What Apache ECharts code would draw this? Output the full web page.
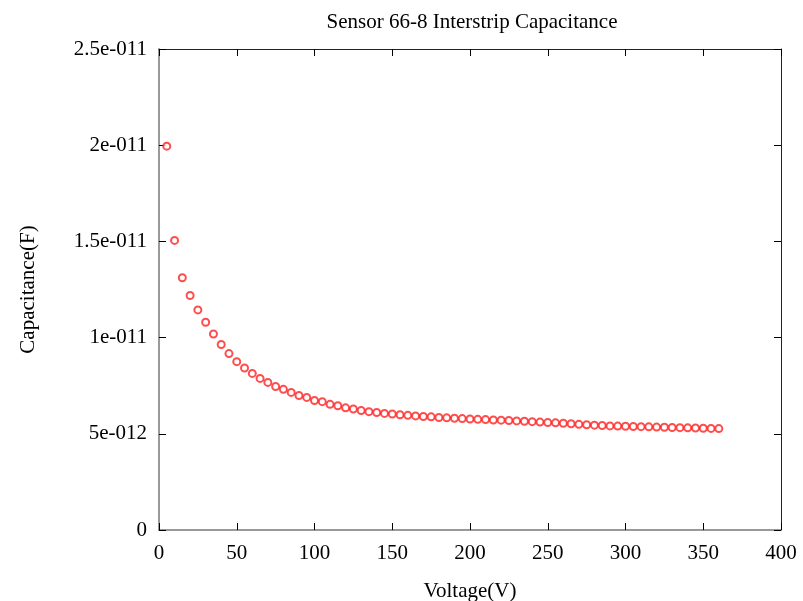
<!DOCTYPE html>
<html>
<head>
<meta charset="utf-8">
<script src="https://cdn.jsdelivr.net/npm/echarts@6/dist/echarts.min.js"></script>
<style>
  html, body { margin: 0; padding: 0; background: #fff; }
  #chart { width: 803px; height: 601px; }
</style>
</head>
<body>
<div id="chart"></div>
<script>
// bias voltage (V)
const voltages = [
  5, 10, 15, 20, 25, 30, 35, 40, 45, 50, 55, 60, 65, 70, 75, 80, 85, 90,
  95, 100, 105, 110, 115, 120, 125, 130, 135, 140, 145, 150, 155, 160, 165, 170,
  175, 180, 185, 190, 195, 200, 205, 210, 215, 220, 225, 230, 235, 240, 245, 250,
  255, 260, 265, 270, 275, 280, 285, 290, 295, 300, 305, 310, 315, 320, 325, 330,
  335, 340, 345, 350, 355, 360
];
// interstrip capacitance, in units of 1e-12 F
const capacitance = [
  19.95, 15.05, 13.11, 12.19, 11.44, 10.80, 10.19, 9.64, 9.17, 8.75, 8.42, 8.14, 7.88, 7.67, 7.46, 7.31, 7.15, 6.99,
  6.89, 6.73, 6.67, 6.53, 6.46, 6.35, 6.29, 6.21, 6.15, 6.11, 6.06, 6.03, 5.99, 5.96, 5.93, 5.90,
  5.88, 5.85, 5.83, 5.81, 5.79, 5.77, 5.75, 5.74, 5.72, 5.71, 5.69, 5.67, 5.65, 5.63, 5.61, 5.59,
  5.57, 5.55, 5.52, 5.49, 5.47, 5.45, 5.43, 5.41, 5.40, 5.39, 5.38, 5.37, 5.36, 5.35, 5.34, 5.33,
  5.32, 5.31, 5.30, 5.29, 5.28, 5.27
];
const yTickLabels = ['0', '5e-012', '1e-011', '1.5e-011', '2e-011', '2.5e-011'];
const xTickLabels = ['0', '50', '100', '150', '200', '250', '300', '350', '400'];

const font = 'Liberation Serif';
const points = voltages.map((v, i) => [v, capacitance[i]]);

// ticks point into the plot, on all four sides
const tick = { show: true, inside: true, length: 7, lineStyle: { color: '#000', width: 1 } };

const myChart = echarts.init(document.getElementById('chart'));
const option = {
  animation: false,
  backgroundColor: '#fff',
  title: {
    text: 'Sensor 66-8 Interstrip Capacitance',
    left: 467,
    textAlign: 'center',
    top: 7,
    textStyle: { fontFamily: font, fontSize: 21, fontWeight: 'normal', color: '#000' }
  },
  grid: { left: 159, right: 22, top: 49, bottom: 71, containLabel: false, outerBoundsMode: 'none' },
  xAxis: [
    {
      type: 'value',
      min: 0,
      max: 400,
      interval: 50,
      name: 'Voltage(V)',
      nameLocation: 'middle',
      nameGap: 51,
      nameTextStyle: { fontFamily: font, fontSize: 21, color: '#000' },
      axisLine: { show: true, onZero: false, lineStyle: { color: '#999', width: 2 } },
      axisTick: tick,
      axisLabel: {
        fontFamily: font, fontSize: 21, color: '#000', margin: 13,
        formatter: (v) => xTickLabels[Math.round(v / 50)]
      },
      splitLine: { show: false }
    },
    {
      type: 'value',
      position: 'top',
      min: 0,
      max: 400,
      interval: 50,
      axisLine: { show: true, onZero: false, lineStyle: { color: '#222', width: 1 } },
      axisTick: tick,
      axisLabel: { show: false },
      splitLine: { show: false }
    }
  ],
  yAxis: [
    {
      type: 'value',
      min: 0,
      max: 25,
      interval: 5,
      name: 'Capacitance(F)',
      nameLocation: 'middle',
      nameGap: 120,
      nameTextStyle: { fontFamily: font, fontSize: 21, color: '#000' },
      axisLine: { show: true, onZero: false, lineStyle: { color: '#999', width: 2 } },
      axisTick: tick,
      axisLabel: {
        fontFamily: font, fontSize: 21, color: '#000', margin: 12,
        formatter: (v) => yTickLabels[Math.round(v / 5)]
      },
      splitLine: { show: false }
    },
    {
      type: 'value',
      position: 'right',
      min: 0,
      max: 25,
      interval: 5,
      axisLine: { show: true, onZero: false, lineStyle: { color: '#222', width: 1 } },
      axisTick: tick,
      axisLabel: { show: false },
      splitLine: { show: false }
    }
  ],
  series: [
    {
      type: 'scatter',
      xAxisIndex: 0,
      yAxisIndex: 0,
      symbol: 'emptyCircle',
      symbolSize: 7,
      itemStyle: { color: '#ff2020', borderColor: '#ff2020', borderWidth: 1 },
      data: points
    }
  ]
};
myChart.setOption(option);
</script>
</body>
</html>
